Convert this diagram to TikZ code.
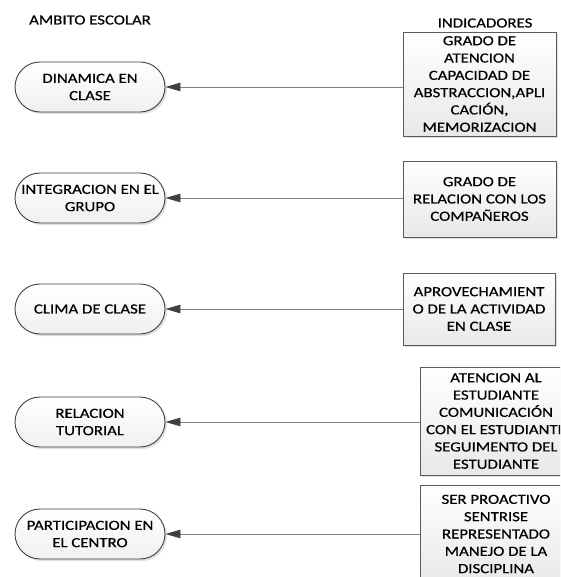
\documentclass[tikz,border=0pt]{standalone}
\usepackage{fontspec}
\setmainfont{Carlito}[FakeStretch=1.2, FakeBold=0.5]
\usetikzlibrary{shadows,arrows.meta}
\definecolor{edge}{HTML}{404040}
\definecolor{boxedge}{HTML}{5A5A5A}
\definecolor{wire}{HTML}{7F7F7F}
\tikzset{
  txt/.style={font=\fontsize{14}{17.3}\selectfont, text=black},
  area/.style={txt, draw=edge, line width=0.9pt, rounded corners=25pt,
    minimum width=150pt, minimum height=50pt, inner sep=0pt, align=center,
    top color=white, bottom color=gray!12,
    drop shadow={opacity=0.25, shadow xshift=2pt, shadow yshift=-2pt}},
  indbox/.style={txt, draw=boxedge, line width=0.8pt, inner sep=0pt, align=center,
    top color=white, bottom color=gray!18,
    drop shadow={opacity=0.25, shadow xshift=2pt, shadow yshift=-2pt}},
  link/.style={draw=wire, line width=0.9pt,
    -{Triangle[length=15pt,width=8.5pt,fill=edge,color=edge]}},
}
\begin{document}
\begin{tikzpicture}[x=1pt,y=-1pt]
  \useasboundingbox (0,0) rectangle (560,577);
  \begin{scope}
    \clip (0,0) rectangle (560,577);

    % headings
    \node[txt] (hleft) at (90,20) {AMBITO ESCOLAR};
    \node[txt] (hright) at (485,23) {INDICADORES};

    % school areas
    \node[area] (s1) at (90,87)  {DINAMICA EN\\CLASE};
    \node[area] (s2) at (90,198) {INTEGRACION EN EL\\GRUPO};
    \node[area] (s3) at (90,309) {CLIMA DE CLASE};
    \node[area] (s4) at (90,422) {RELACION\\TUTORIAL};
    \node[area] (s5) at (90,534) {PARTICIPACION EN\\EL CENTRO};

    % indicators
    \node[indbox, minimum width=153pt, minimum height=104pt] (b1) at (479.5,84)
      {GRADO DE\\ATENCION\\CAPACIDAD DE\\ABSTRACCION,APLI\\CACIÓN,\\MEMORIZACION};
    \node[indbox, minimum width=153pt, minimum height=76pt] (b2) at (479.5,199)
      {GRADO DE\\RELACION CON LOS\\COMPAÑEROS};
    \node[indbox, minimum width=152pt, minimum height=72pt] (b3) at (479,309)
      {APROVECHAMIENT\\O DE LA ACTIVIDAD\\EN CLASE};
    \node[indbox, minimum width=152pt, minimum height=108pt] (b4) at (496,421)
      {ATENCION AL\\ESTUDIANTE\\COMUNICACIÓN\\CON EL ESTUDIANTE\\SEGUIMENTO DEL\\ESTUDIANTE};
    \node[indbox, minimum width=152pt, minimum height=98pt] (b5) at (496,534)
      {SER PROACTIVO\\SENTRISE\\REPRESENTADO\\MANEJO DE LA\\DISCIPLINA};

    % connectors
    \draw[link] (b1.west |- s1.east) -- (s1.east);
    \draw[link] (b2.west |- s2.east) -- (s2.east);
    \draw[link] (b3.west |- s3.east) -- (s3.east);
    \draw[link] (b4.west |- s4.east) -- (s4.east);
    \draw[link] (b5.west |- s5.east) -- (s5.east);
  \end{scope}
\end{tikzpicture}
\end{document}
